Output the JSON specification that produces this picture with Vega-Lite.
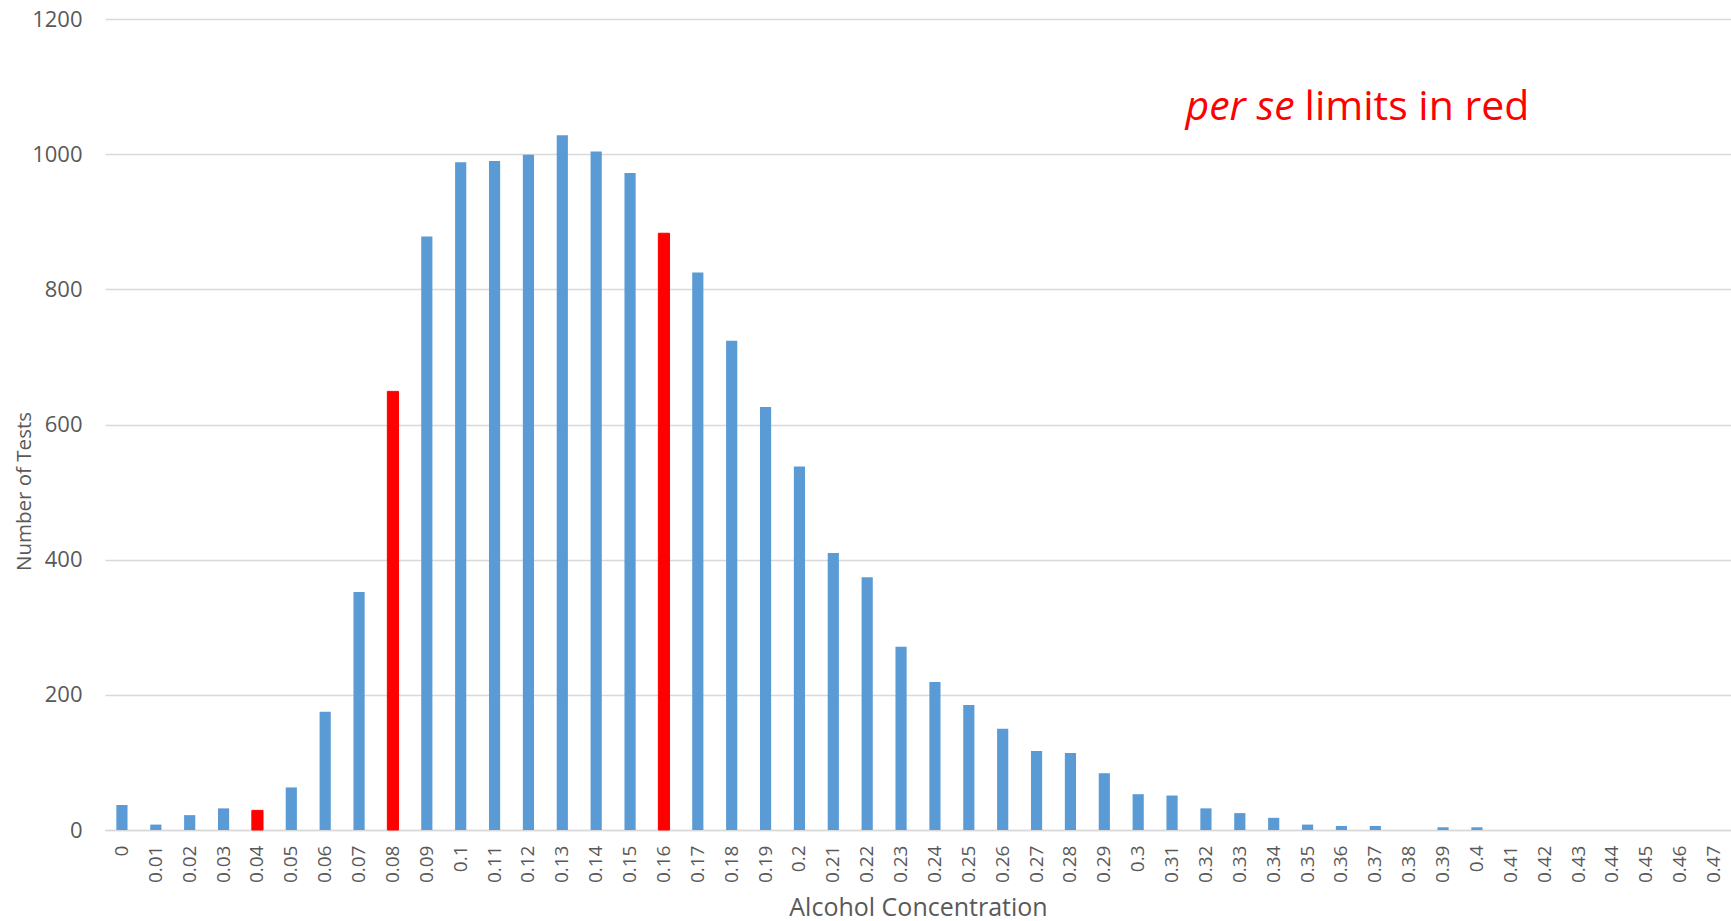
{
  "$schema": "https://vega.github.io/schema/vega-lite/v6.json",
  "width": 1626,
  "height": 811,
  "autosize": {"type": "none"},
  "padding": {"left": 105, "top": 19, "right": 0, "bottom": 91},
  "background": "white",
  "config": {"view": {"stroke": null}, "font": "Open Sans"},
  "layer": [
    {
      "data": {
        "values": [
          {"bac": "0", "tests": 37, "limit": "no"},
          {"bac": "0.01", "tests": 8, "limit": "no"},
          {"bac": "0.02", "tests": 22, "limit": "no"},
          {"bac": "0.03", "tests": 32, "limit": "no"},
          {"bac": "0.04", "tests": 29, "limit": "yes"},
          {"bac": "0.05", "tests": 63, "limit": "no"},
          {"bac": "0.06", "tests": 175, "limit": "no"},
          {"bac": "0.07", "tests": 352, "limit": "no"},
          {"bac": "0.08", "tests": 649, "limit": "yes"},
          {"bac": "0.09", "tests": 878, "limit": "no"},
          {"bac": "0.1", "tests": 988, "limit": "no"},
          {"bac": "0.11", "tests": 990, "limit": "no"},
          {"bac": "0.12", "tests": 999, "limit": "no"},
          {"bac": "0.13", "tests": 1028, "limit": "no"},
          {"bac": "0.14", "tests": 1004, "limit": "no"},
          {"bac": "0.15", "tests": 972, "limit": "no"},
          {"bac": "0.16", "tests": 883, "limit": "yes"},
          {"bac": "0.17", "tests": 825, "limit": "no"},
          {"bac": "0.18", "tests": 724, "limit": "no"},
          {"bac": "0.19", "tests": 626, "limit": "no"},
          {"bac": "0.2", "tests": 538, "limit": "no"},
          {"bac": "0.21", "tests": 410, "limit": "no"},
          {"bac": "0.22", "tests": 374, "limit": "no"},
          {"bac": "0.23", "tests": 271, "limit": "no"},
          {"bac": "0.24", "tests": 219, "limit": "no"},
          {"bac": "0.25", "tests": 185, "limit": "no"},
          {"bac": "0.26", "tests": 150, "limit": "no"},
          {"bac": "0.27", "tests": 117, "limit": "no"},
          {"bac": "0.28", "tests": 114, "limit": "no"},
          {"bac": "0.29", "tests": 84, "limit": "no"},
          {"bac": "0.3", "tests": 53, "limit": "no"},
          {"bac": "0.31", "tests": 51, "limit": "no"},
          {"bac": "0.32", "tests": 32, "limit": "no"},
          {"bac": "0.33", "tests": 25, "limit": "no"},
          {"bac": "0.34", "tests": 18, "limit": "no"},
          {"bac": "0.35", "tests": 8, "limit": "no"},
          {"bac": "0.36", "tests": 6, "limit": "no"},
          {"bac": "0.37", "tests": 6, "limit": "no"},
          {"bac": "0.38", "tests": 0, "limit": "no"},
          {"bac": "0.39", "tests": 4, "limit": "no"},
          {"bac": "0.4", "tests": 4, "limit": "no"},
          {"bac": "0.41", "tests": 0, "limit": "no"},
          {"bac": "0.42", "tests": 0, "limit": "no"},
          {"bac": "0.43", "tests": 0, "limit": "no"},
          {"bac": "0.44", "tests": 0, "limit": "no"},
          {"bac": "0.45", "tests": 0, "limit": "no"},
          {"bac": "0.46", "tests": 0, "limit": "no"},
          {"bac": "0.47", "tests": 0, "limit": "no"}
        ]
      },
      "mark": {"type": "bar", "width": {"band": 0.33}},
      "encoding": {
        "x": {
          "field": "bac",
          "type": "nominal",
          "sort": null,
          "scale": {"paddingInner": 0, "paddingOuter": 0},
          "axis": {
            "title": "Alcohol Concentration",
            "titleFontSize": 25,
            "titleFontWeight": "normal",
            "titleColor": "#595959",
            "titleBaseline": "alphabetic",
            "titleY": 85,
            "labelAngle": -90,
            "labelFontSize": 19,
            "labelColor": "#595959",
            "labelPadding": 15,
            "labelOverlap": false,
            "ticks": false,
            "domainColor": "#D9D9D9",
            "domainWidth": 1.5,
            "grid": false
          }
        },
        "y": {
          "field": "tests",
          "type": "quantitative",
          "scale": {"domain": [0, 1200], "nice": false},
          "axis": {
            "title": "Number of Tests",
            "titleFontSize": 20.5,
            "titleFontWeight": "normal",
            "titleColor": "#595959",
            "titleAngle": -90,
            "titleAlign": "center",
            "titleBaseline": "middle",
            "titleX": -81,
            "titleY": 472,
            "values": [0, 200, 400, 600, 800, 1000, 1200],
            "format": "d",
            "labelFontSize": 22,
            "labelColor": "#595959",
            "labelPadding": 23,
            "ticks": false,
            "domain": false,
            "grid": true,
            "gridColor": "#D9D9D9",
            "gridWidth": 1.5
          }
        },
        "color": {
          "field": "limit",
          "type": "nominal",
          "scale": {"domain": ["no", "yes"], "range": ["#5B9BD5", "#FF0000"]},
          "legend": null
        },
        "stroke": {
          "field": "limit",
          "type": "nominal",
          "scale": {"domain": ["no", "yes"], "range": ["#5B9BD5", "#FF0000"]},
          "legend": null
        },
        "strokeWidth": {
          "condition": {"test": "datum.limit === 'yes'", "value": 1},
          "value": 0
        }
      }
    },
    {
      "data": {"values": [{"bac": "0.35", "tests": 1050, "label": "per se"}]},
      "mark": {
        "type": "text",
        "align": "right",
        "baseline": "alphabetic",
        "dx": -13,
        "fontStyle": "italic",
        "fontSize": 41,
        "color": "#FF0000",
        "font": "Open Sans"
      },
      "encoding": {
        "x": {"field": "bac", "type": "nominal", "sort": null},
        "y": {"field": "tests", "type": "quantitative"},
        "text": {"field": "label"}
      }
    },
    {
      "data": {"values": [{"bac": "0.35", "tests": 1050, "label": "limits in red"}]},
      "mark": {
        "type": "text",
        "align": "left",
        "baseline": "alphabetic",
        "dx": -3,
        "fontSize": 41,
        "color": "#FF0000",
        "font": "Open Sans"
      },
      "encoding": {
        "x": {"field": "bac", "type": "nominal", "sort": null},
        "y": {"field": "tests", "type": "quantitative"},
        "text": {"field": "label"}
      }
    }
  ]
}
